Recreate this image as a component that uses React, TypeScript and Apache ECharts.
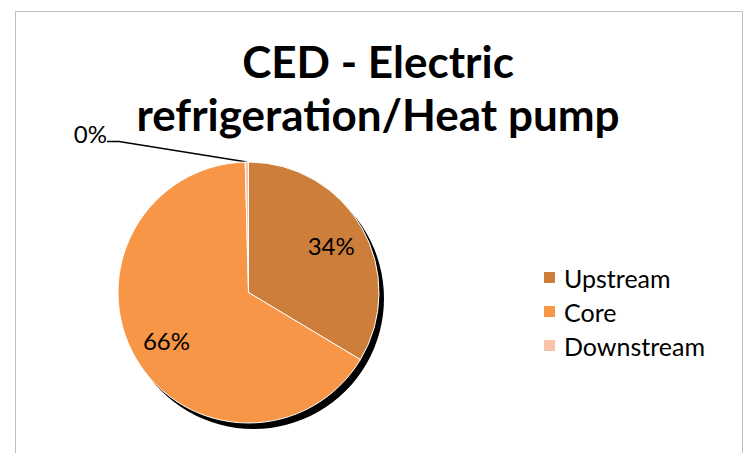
import React, { useEffect, useRef } from 'react';
import * as echarts from 'echarts';

const titleLines = ['CED - Electric', 'refrigeration/Heat pump'];
const categories = ['Upstream', 'Core', 'Downstream'];
const shares = [33.6, 66.0, 0.4];
const sliceColors = ['#CD7E3A', '#F79646', '#F9C3A8'];

export default function App() {
  const ref = useRef<HTMLDivElement>(null);
  useEffect(() => {
    const chart = echarts.init(ref.current!, null, { renderer: 'svg' });
    const center = [248.5, 292.5];
    const R = 130.5;
    const font = 'Lato';
    const total = shares.reduce((a, b) => a + b, 0);
    chart.setOption({
      animation: false,
      backgroundColor: '#ffffff',
      graphic: [
        {
          type: 'rect',
          silent: true,
          z: -10,
          shape: { x: 15.5, y: 11.5, width: 727, height: 500 },
          style: { fill: 'none', stroke: '#BFBFBF', lineWidth: 1 },
        },
        {
          type: 'text',
          silent: true,
          x: 378,
          y: 34,
          style: {
            text: titleLines.join('\n'),
            textAlign: 'center',
            textVerticalAlign: 'top',
            fontFamily: font,
            fontWeight: 'bold',
            fontSize: 44,
            lineHeight: 53.5,
            fill: '#000',
          },
        },
      ],
      legend: {
        orient: 'vertical',
        left: 537,
        top: 260,
        itemWidth: 13,
        itemHeight: 13,
        itemGap: 9,
        icon: 'rect',
        selectedMode: false,
        data: categories,
        textStyle: { fontFamily: font, fontSize: 25, lineHeight: 25, color: '#000', padding: [0, 0, 0, 3] },
      },
      series: [
        {
          type: 'pie',
          name: 'shadow',
          silent: true,
          center: [center[0] + 5, center[1] + 6],
          radius: R,
          label: { show: false },
          labelLine: { show: false },
          itemStyle: { color: '#000' },
          data: [{ name: '', value: total }],
          z: 1,
        },
        {
          type: 'pie',
          name: 'CED',
          center,
          radius: R,
          startAngle: 90,
          clockwise: true,
          percentPrecision: 0,
          avoidLabelOverlap: false,
          emphasis: { disabled: true },
          itemStyle: { borderColor: '#ffffff', borderWidth: 1 },
          label: {
            position: 'outside',
            formatter: '{p|{d}%}\n{s| }',
            rich: {
              p: { fontFamily: font, fontSize: 24, lineHeight: 26, color: '#000' },
              s: { fontFamily: font, fontSize: 10, lineHeight: 16, height: 16 },
            },
          },
          labelLine: { length: 10, length2: 12, lineStyle: { color: '#000', width: 1.5 } },
          labelLayout: (p: any) =>
            p.dataIndex === 2 ? { x: 107, y: 120, align: 'right', verticalAlign: 'top' } : {},
          data: categories.map((name, i) => ({
            name,
            value: shares[i],
            itemStyle: { color: sliceColors[i] },
            label: { show: i === 2 },
            labelLine: { show: i === 2 },
          })),
          z: 2,
        },
        {
          type: 'pie',
          name: 'labels',
          silent: true,
          center,
          radius: [0, R * 1.41],
          startAngle: 90,
          percentPrecision: 0,
          legendHoverLink: false,
          itemStyle: { color: 'rgba(0,0,0,0)' },
          label: {
            position: 'inside',
            formatter: '{d}%',
            fontFamily: font,
            fontSize: 24,
            color: '#000',
          },
          labelLine: { show: false },
          data: categories.map((name, i) => ({
            name,
            value: shares[i],
            label: { show: i !== 2 },
          })),
          z: 3,
        },
      ],
    });
    return () => chart.dispose();
  }, []);
  return (
    <div
      ref={ref}
      style={{ position: 'absolute', left: 0, top: 0, width: 747, height: 453 }}
    />
  );
}
